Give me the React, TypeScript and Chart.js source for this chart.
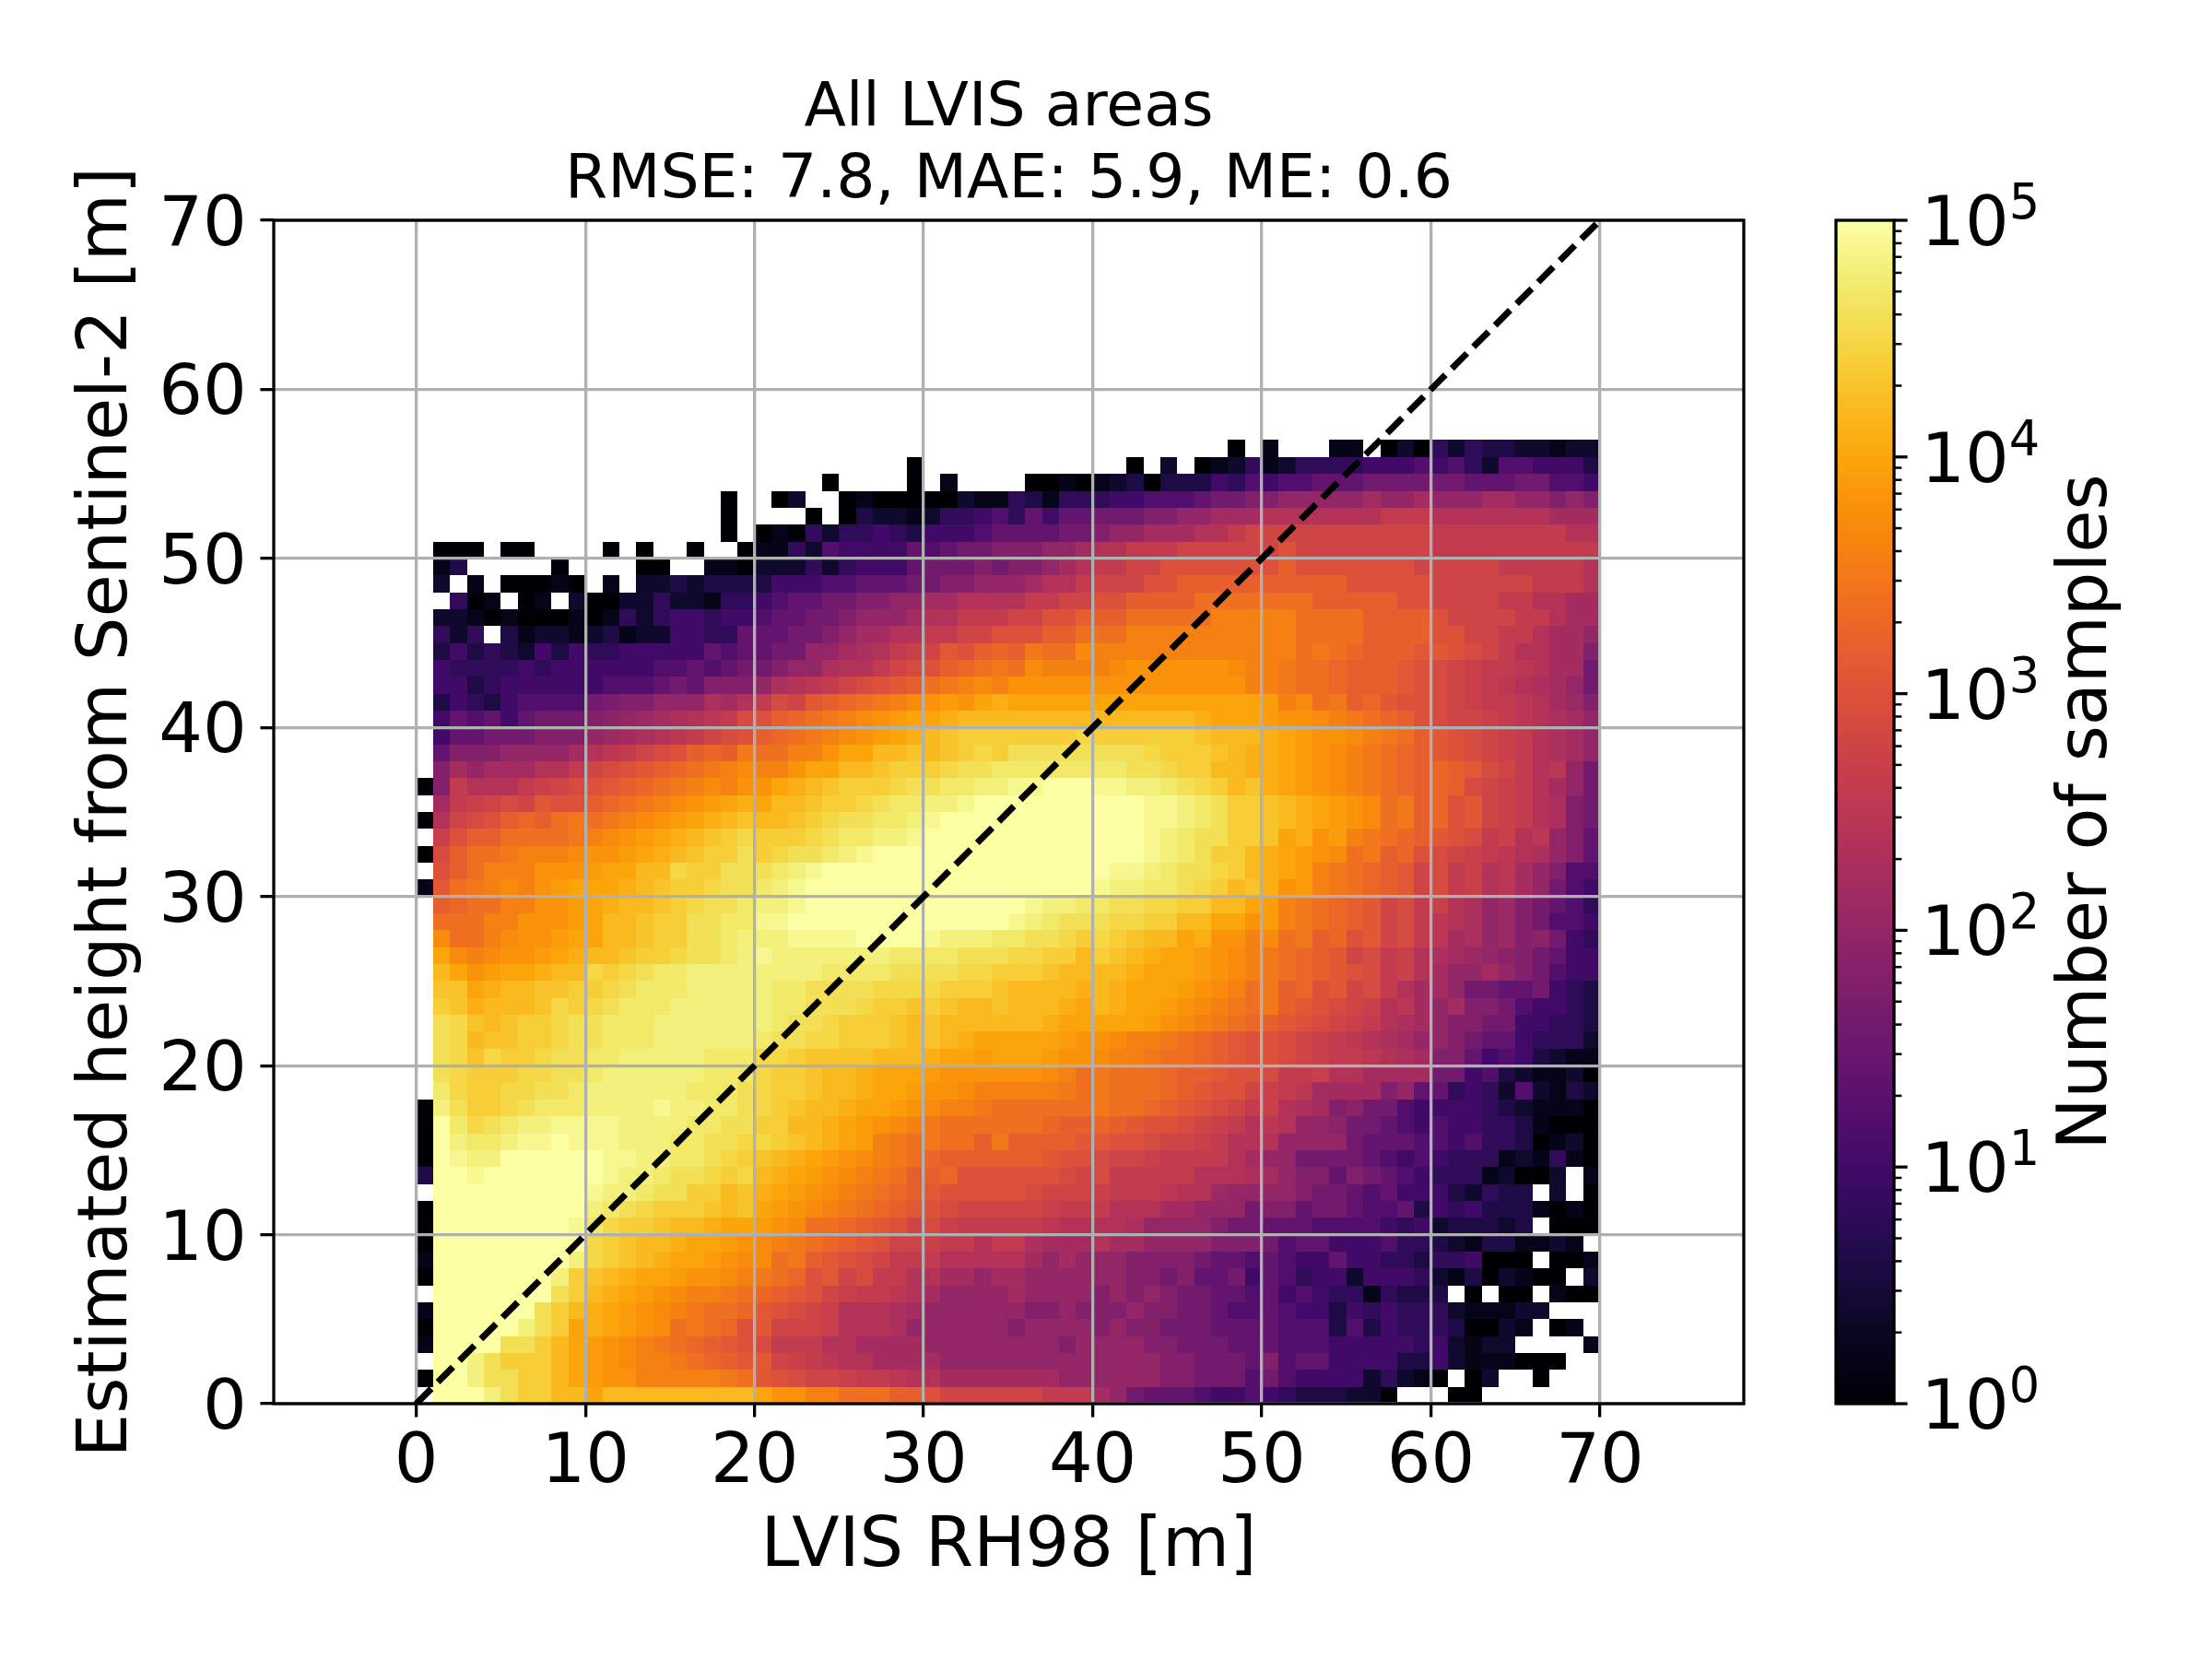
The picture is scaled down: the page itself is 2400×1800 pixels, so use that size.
import Chart from "chart.js/auto";
import { useEffect, useRef } from "react";

const titleLines = ["All LVIS areas", "RMSE: 7.8, MAE: 5.9, ME: 0.6"];
const xLabel = "LVIS RH98 [m]";
const yLabel = "Estimated height from Sentinel-2 [m]";
const cbarLabel = "Number of samples";

const xTicks = [0, 10, 20, 30, 40, 50, 60, 70];
const yTicks = [0, 10, 20, 30, 40, 50, 60, 70];
const cbarDecades = [1, 10, 100, 1000, 10000, 100000];
const cbarMinors = [2, 3, 4, 5, 6, 7, 8, 9];
const cbarExponents = ["0", "1", "2", "3", "4", "5"];
const diagX = [0, 70];
const diagY = [0, 70];

// one letter per cell, a = 1 sample ... z = 1e5 samples, five letters per decade,
// a capital is half a step above its small letter, . = no samples
// first row is y = 56..57, last row is y = 0..1, ten columns per group
const heatRows = [
  ".......... .......... .......... .......... ........a. b...bb.aca eceddccbcc",
  ".......... .......... .........a .......... ..a.c.abce bceeeefffg fgecggfffd",
  ".......... .......... ....a....a .b....aaba bcdadddfeg fgghhhiiii iihhhiiggf",
  ".......... ........a. .ac..abaaa aacbbedbee effggghiij jkkkkklkkl kkkllkkjkj",
  ".......... ........a. ...a.adccb ceefgehfhh iiijjkklll mmmmmmmnnn mmmmmmmlll",
  ".......... ........a. abaeceefed fffghhhhii jkklllmmno oooooooooo nnnnnnnnmm",
  ".aaa.aa... .a.a..a..a bbecgffffh ghiijjjkkl mmnnnooooo opoooooooo nnnnnnnnnn",
  ".bd.....a. ...aa..bba cccecefffh iiijijjklm nnoopppppp pqpppppppo oooonnnnnm",
  ".c.b.aaaba .b.ccdcddd dfffgghhhi ijjkkklmmn oooppqqqqq qqqqqppppp oooooonnnm",
  "..eab.ab.c aacceccbee fghhiijjkk llmmmmnnoo ppqqqqrrrr rrrqqqqqpp oooonnmmll",
  ".ccbabaaab abeceffeff ghhiijkkkl mmnnnooppq qqrrrrrsss ssrrrrqqqq poooonnmll",
  ".ece.dbccb cdbccffeeh hhiijkllmm nnoopppqqr rrssssssss ssrrrrqqqq ppoonnmllk",
  ".dfdedcfdf eefffffhgh hiikklLmnN oPpqQqRrrS ssssssssss ssrRrQqqqP PpOonmmllj",
  ".feeeefeff ffffgghghi ijkkLmmnoO pqQrRrSsss sSttttttSs sRrrQqqqPp OoNnnMmlli",
  ".ffdefffff fggghihjjj kLmMnoOpPq rRsSsttttt ttttttttts sRrrQqqqPp OoNnMmLlki",
  ".dfedfgggg iIjjkkkLlm nOoPqQrRsS tTtuUuuuuu uuuuuuuuuu TsSrRqQPpp OoNnnMmlKj",
  ".fhghfhiii jJkKlLmMnO pqQrRsStTu uUvvvvvvvv vvvvvvUuuu TttSsRrQqp OooNnMmLlk",
  ".fhhiiijjj kKlLmMnoOp qQrRsStTuU vVwwwwwwwW wwwwwwVvvv UuTttSsRrq PpOoNnmLlk",
  ".hjjjkkkkl mMnoOpqQqR rrsstuuvvV vVwWwxxxxx xxxWwwwVvU UuTtSsRrQq PpOoNnmLlk",
  ".jlklllmmn oOpPqQrRsS sstuuvvVww wWxxXXXXXX XXxxWwwvvU UuTtSsRrQq QqPOonmMki",
  "ajnmmmnNoO pPqQrRsSst tuUvVwwwWx xXXyyYYzzz YYyyXxWwvV UuTtSsRrQq QqOoNnmlki",
  ".lnNoOoPpp qQrRsStTuU uvvVwwWxXX yyYzzzzzzz zzzYYyXxww VvUuTtSrRq QpPoNnmLji",
  "amoOpqQqrR rRsStTuUvV vvVwWxxXXy Yzzzzzzzzz zzzYYyXxww VvUuTtSrRq QpPoNnmLji",
  ".NpqqrrrrR sStTuUvVwW wwwWxXXyyY zzzzzzzzzz zzzYyXxxww VuUtTsRrQq PpOnNmMkjh",
  "aOqrrRsssS ttTuUvVwwx wWxxXyYzzz zzzzzzzzzz zzzYyXxwwv UuTtSrRqQp OoNnMmLkjh",
  ".pqrsssttt TuuvvWwwxx xXyYzzzzzz zzzzzzzzzz zYYyXxxWwv UuTsRrQqPo OnNmMlkjgg",
  "bPrRsSstTu uuUvVwwWxx XyYzzzzzzz zzzzzzzzzz YyyXXxWwvV UtTsRrQqPo OnNmMlkigf",
  ".qQrrssttT uUvvVwWxxX yyYzzzzzzz zzzzzzYyyX XxxWWwwvvu TsRrQqPoOn NmLkKjihge",
  ".rrrsstttT uvvVwwxxXX YYzzzzzzzz zzzzzYyXxx xWWwwvvuut TsRrQqPoOn MmLkKjiggf",
  ".SrrsSttTu uvvVwwxxXy yyYYYYzzzz YyyyXXxxWw WwVvvuUtts SrRqQpPoOn MlLkKjJife",
  ".uSsSttTuU vvVwwWxxXy YyyyyyyyXX XXxxxWWwwv wVvUuuTtSs RrQqPoOnNm LlKkJjihff",
  ".vutTuuUvv WwWxXXyyyy yyyyXXXXxx xxWWwwwVvv vvUuuuTtSs RrQqPpOnNm lkklkjigff",
  ".VVuUvvVVw wWxXXXyyyy yXXxxxxWWW WwwwVvvvvU vUuuuTtSsr RqQpPoOnml lkiihhifed",
  ".wVUvvvVWw WxXXXyyyyy yXXxxxWwwV wVvvVvvvUu vUuuTtSsRr RqPpOoNmMl kljjigffed",
  ".xWVvVwwWx xXXXyyyyyy yXxxWwwwVv VvvvvvvUuu uuuTtSsRrQ qPpOoNnmLl kjjiiffeed",
  ".xWvVVwwWx xXXXyyyyyy XxxWWwwwVv VvUuuuuuTt tSssRrQqPp pOoNnMmLlk kjihhfeeec",
  ".xWVWwwWxx XXyyyyyXXX WWwVVVVvvv UuuTuuuTtt SssRrrQqPp pOoNnnMmLl jjhfgfdcbb",
  ".xWwwwWWxx XyyyyyyXXX WwwVvvUuuu TttttttSsr RrrrQqqPpp OnnNmmllll iifgdcbbca",
  ".XWwwWWxxX yyyyyyXXXx WwwVvvUuuT ttSsssssRr RrrrQqPppo NnMlllljkh hefecgcbdc",
  "ayxwwWxXXX yyyyYyyXXx WwVvvUuuTt SssRrrrrrr RrrQqPpOon NmLljJiigf fffedcbbba",
  "azXWxXyyYY YYyyyyXXxx wwvvUuTtSs RrrrrrrQqq QqPppOoNnm MmkkJiihgf gffeedbaaa",
  "azyXXyYYzY YYyyyXXxxW WwVvUuTsRr RrrqRqqqqP PppOooNnmm mkkkkihhhg gfgeedabca",
  "azYyyzzzzz zYYyyXXxWw VvUuTtSsRr QqqqqqqPpp OooNnnnnml kkiiiihgfg feeebcbeba",
  "dzzYzzzzzz zYyyXxxWwW vUuTtSsRrq qQppppppOo OnnnnnmmmL lkjjhjihgf eeebcaac.b",
  ".zzzzzzzzz YyyXxxwwvV UuTtSsRrQq PpppppOooo NnnnMmmKkk kkjiihghff fdcedd.c.a",
  "azzzzzzzzz yXxWwwwVvV uTtSsRrQqP pOoooooNnn nmmmllkkki jjhiihgghd fefdddbaba",
  "azzzzzzzzY XWwwVvvUuu TtSrrQqPpo ONnnnnnMmm mmLkkkkjii hhhggggfef cdddcd.aaa",
  "azzzzzzzzz WwVvvUuuTt SsRrQqPpoo NnnmnnLlll mllkkkkjjj ighhfffgee dcbddbbcb.",
  "bzzzzzzzzy WwVvUuuTtS SrRqPpOonn nmmmmmlklk kkjjjjihhg hgffhffeed eefaaa.aab",
  "azzzzzzzyw VvUuuTttSs RrQpPoOnnm mllkllkkkk kkjjijhhif hgeffcfffe cbdacbaa.c",
  ".zzzzzzzxw vUuTtSssRr QqPpoNnnMm lkkkklkkkk jkjkjiihhg hfgfeebedd d.a.aa.baa",
  "bzzzzzzxwv UuTtSsRrrQ PpOoNmmmLl kkkkkkjjkj jjkjjiihgg hgffdfefee ecbbbcc...",
  "azzzzzyxwu UuTtSrRrQp PoooNmmmLk kkkkkjkkkk jkjjiiihhh hgggdgdfee edaacb.ab.",
  "bzzzzxxwvu TtSsRrQqPp Onnnmmllll kkkkkkkkjk kkkjjiiihh hgggfffffe fcbcc....b",
  ".zzyxwwwvu TtSssRrQqP PoNnMmmlll lkkkkkkkkk kkkkjjiiih jghhffffdd fcbbbaaa..",
  "azzyxxwwvu TttsssssRr PpOooNnnMm mlllllllkk kkkkjjiiig igffffcecb a.ac..a...",
  ".zzzyxwwvv uvvvvvvvvv uttssrrrqq poooooonnn lkihhhgffg fedddcca.. .aa.......",
];

const infernoStops = [
  "#000004", "#08051d", "#160b39", "#2a0b57", "#420a68", "#560f6d", "#6a176e",
  "#7f1e6c", "#932667", "#a82e5f", "#bb3754", "#cc4248", "#dd513a", "#ea632a",
  "#f37819", "#f98e09", "#fca50a", "#f9be24", "#f6d746", "#f1ed71", "#fcffa4",
];

const FONT = "'DejaVu Sans'";
const TICK_FONT = 75;
const LINE = 3.3;

const hexRgb = (hex: string) => [1, 3, 5].map(i => parseInt(hex.slice(i, i + 2), 16));

// t goes from 0 to 1 along the log colour scale
const inferno = (t: number) => {
  const pos = Math.max(0, Math.min(1, t)) * (infernoStops.length - 1);
  const i = Math.min(Math.floor(pos), infernoStops.length - 2);
  const a = hexRgb(infernoStops[i]);
  const b = hexRgb(infernoStops[i + 1]);
  const c = a.map((v, k) => Math.round(v + (b[k] - v) * (pos - i)));
  return `rgb(${c[0]},${c[1]},${c[2]})`;
};

const countFromLetter = (ch: string) => {
  const lower = ch.toLowerCase();
  const half = ch === lower ? 0 : 0.5;
  return Math.pow(10, (lower.charCodeAt(0) - 97 + half) / 5);
};

// hist2d cells go under the grid, so beforeDraw and not a dataset
const heatmapPlugin = {
  id: "heatmap",
  beforeDraw(chart: any) {
    const { ctx, scales } = chart;
    ctx.save();
    heatRows.forEach((row, r) => {
      const cells = row.replace(/ /g, "");
      const yVal = heatRows.length - 1 - r;
      const top = Math.round(scales.y.getPixelForValue(yVal + 1));
      const bottom = Math.round(scales.y.getPixelForValue(yVal));
      for (let c = 0; c < cells.length; c++) {
        if (cells[c] === ".") continue;
        const left = Math.round(scales.x.getPixelForValue(c));
        const right = Math.round(scales.x.getPixelForValue(c + 1));
        ctx.fillStyle = inferno(Math.log10(countFromLetter(cells[c])) / 5);
        ctx.fillRect(left, top, right - left, bottom - top);
      }
    });
    ctx.restore();
  },
  afterDraw(chart: any) {
    const { ctx, chartArea: a, scales } = chart;
    ctx.save();
    ctx.strokeStyle = "#000";
    ctx.lineWidth = LINE;
    ctx.strokeRect(a.left, a.top, a.right - a.left, a.bottom - a.top);

    // y tick labels sit a little lower than chart.js would put them
    ctx.fillStyle = "#000";
    ctx.font = `${TICK_FONT}px ${FONT}`;
    ctx.textAlign = "right";
    ctx.textBaseline = "alphabetic";
    yTicks.forEach(v => {
      ctx.fillText(String(v), a.left - 29.2, scales.y.getPixelForValue(v) + 27);
    });
    ctx.restore();
  },
};

const colorbarPlugin = {
  id: "colorbar",
  beforeDraw(chart: any) {
    const { ctx, chartArea: a, scales } = chart;
    const y = scales.y;
    ctx.save();
    for (let i = 0; i < 256; i++) {
      const lo = Math.pow(10, (i / 256) * 5);
      const hi = Math.pow(10, ((i + 1) / 256) * 5);
      const top = y.getPixelForValue(hi);
      ctx.fillStyle = inferno((i + 0.5) / 256);
      ctx.fillRect(a.left, top, a.right - a.left, y.getPixelForValue(lo) - top + 1);
    }
    ctx.restore();
  },
  afterDraw(chart: any) {
    const { ctx, chartArea: a, scales } = chart;
    const y = scales.y;
    ctx.save();
    ctx.strokeStyle = "#000";
    ctx.fillStyle = "#000";
    ctx.lineWidth = LINE;
    ctx.strokeRect(a.left, a.top, a.right - a.left, a.bottom - a.top);

    // major ticks with the 10^n labels
    ctx.textBaseline = "alphabetic";
    ctx.textAlign = "left";
    cbarDecades.forEach((v, i) => {
      const py = y.getPixelForValue(v);
      ctx.beginPath();
      ctx.moveTo(a.right, py);
      ctx.lineTo(a.right + 14.6, py);
      ctx.stroke();
      ctx.font = `${TICK_FONT}px ${FONT}`;
      const lx = a.right + 29.2;
      ctx.fillText("10", lx, py + 27);
      const w = ctx.measureText("10").width;
      ctx.font = `${TICK_FONT * 0.7}px ${FONT}`;
      ctx.fillText(cbarExponents[i], lx + w, py - 2);
    });

    // minor ticks
    ctx.lineWidth = 2.5;
    cbarDecades.slice(0, -1).forEach(d => {
      cbarMinors.forEach(m => {
        const py = y.getPixelForValue(d * m);
        ctx.beginPath();
        ctx.moveTo(a.right, py);
        ctx.lineTo(a.right + 8.3, py);
        ctx.stroke();
      });
    });

    ctx.translate(2285, (a.top + a.bottom) / 2);
    ctx.rotate(-Math.PI / 2);
    ctx.textAlign = "center";
    ctx.font = `${TICK_FONT}px ${FONT}`;
    ctx.fillText(cbarLabel, 0, 0);
    ctx.restore();
  },
};

const setTicks = (values: number[]) => (scale: any) => {
  scale.ticks = values.map(value => ({ value }));
};

const HeatChart = () => {
  const ref = useRef<HTMLCanvasElement | null>(null);

  useEffect(() => {
    if (!ref.current) return;
    const chart = new Chart(ref.current, {
      type: "scatter",
      data: {
        datasets: [
          {
            data: diagX.map((x, i) => ({ x, y: diagY[i] })),
            showLine: true,
            borderColor: "#000",
            borderWidth: 7,
            borderDash: [23.1, 10],
            pointRadius: 0,
          },
        ],
      },
      options: {
        responsive: false,
        animation: false,
        devicePixelRatio: 1,
        layout: { padding: { right: 508 } },
        plugins: {
          legend: { display: false },
          tooltip: { enabled: false },
          title: {
            display: true,
            text: titleLines,
            fullSize: false,
            color: "#000",
            font: { family: FONT, size: 66.4, weight: "normal", lineHeight: 1.175 },
            padding: { top: 80, bottom: 3 },
          },
        },
        scales: {
          x: {
            type: "linear",
            min: -8.43,
            max: 78.5,
            afterBuildTicks: setTicks(xTicks),
            afterFit: (s: any) => { s.height = 277; },
            border: { display: false },
            grid: { color: "#b0b0b0", lineWidth: LINE, tickLength: 14.6, tickColor: "#000", tickWidth: LINE },
            ticks: { color: "#000", font: { family: FONT, size: TICK_FONT }, padding: 6, maxRotation: 0, autoSkip: false },
            title: {
              display: true,
              text: xLabel,
              color: "#000",
              font: { family: FONT, size: TICK_FONT },
              padding: { top: 0, bottom: 75 },
            },
          },
          y: {
            type: "linear",
            min: 0,
            max: 70,
            afterBuildTicks: setTicks(yTicks),
            afterFit: (s: any) => { s.width = 297; },
            border: { display: false },
            grid: { color: "#b0b0b0", lineWidth: LINE, tickLength: 14.6, tickColor: "#000", tickWidth: LINE },
            ticks: { display: false },
            title: {
              display: true,
              text: yLabel,
              color: "#000",
              font: { family: FONT, size: TICK_FONT },
              padding: { top: 73, bottom: 0 },
            },
          },
        },
      } as any,
      plugins: [heatmapPlugin],
    });
    return () => chart.destroy();
  }, []);

  return <canvas ref={ref} width={2400} height={1800} style={{ position: "absolute", left: 0, top: 0 }} />;
};

const ColorBar = () => {
  const ref = useRef<HTMLCanvasElement | null>(null);

  useEffect(() => {
    if (!ref.current) return;
    const chart = new Chart(ref.current, {
      type: "scatter",
      data: { datasets: [{ data: [] }] },
      options: {
        responsive: false,
        animation: false,
        devicePixelRatio: 1,
        layout: { padding: { left: 1992, right: 345, top: 239, bottom: 277 } },
        plugins: { legend: { display: false }, tooltip: { enabled: false } },
        scales: {
          x: { display: false, min: 0, max: 1 },
          y: {
            type: "logarithmic",
            position: "right",
            min: 1,
            max: 100000,
            afterFit: (s: any) => { s.width = 0; },
            border: { display: false },
            grid: { display: false },
            ticks: { display: false },
          },
        },
      } as any,
      plugins: [colorbarPlugin],
    });
    return () => chart.destroy();
  }, []);

  return <canvas ref={ref} width={2400} height={1800} style={{ position: "absolute", left: 0, top: 0 }} />;
};

export default function App() {
  return (
    <div style={{ position: "absolute", left: 0, top: 0, width: 2400, height: 1800, background: "#fff" }}>
      <HeatChart />
      <ColorBar />
    </div>
  );
}
